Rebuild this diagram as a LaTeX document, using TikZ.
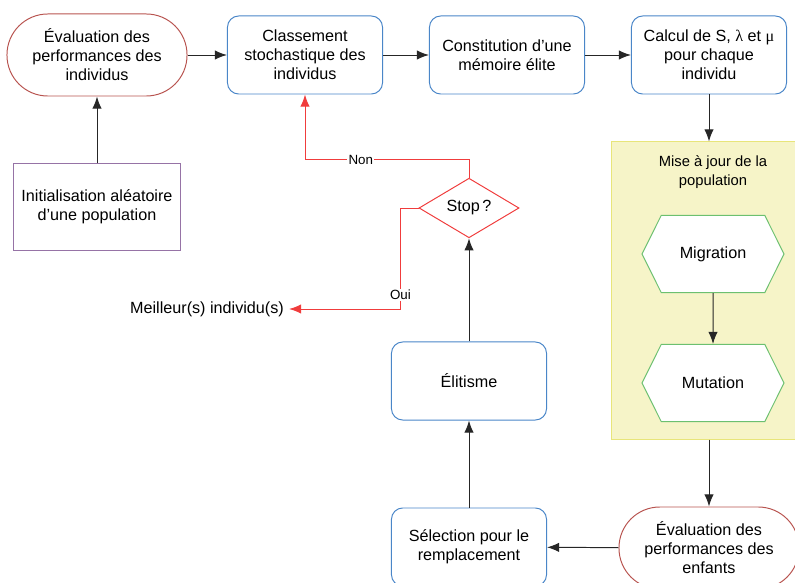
\documentclass[tikz,border=0pt]{standalone}
\usepackage{fontspec}
\setmainfont{Liberation Sans}
\newfontfamily\grec{Liberation Serif}
\usetikzlibrary{arrows.meta,shapes.geometric,shapes.symbols}

\definecolor{rougeb}{HTML}{B85450}
\definecolor{bleub}{HTML}{4A86C8}
\definecolor{violetb}{HTML}{9673A6}
\definecolor{vertb}{HTML}{6CC070}
\definecolor{jaunef}{HTML}{F6F4C8}
\definecolor{jauneb}{HTML}{E8E57A}
\definecolor{rougel}{HTML}{F03C3C}

\begin{document}
\begin{tikzpicture}[>={Latex[length=3mm,width=2.3mm]},x=0.025cm,y=-0.025cm,line width=0.7pt,
  every node/.style={font=\fontsize{11.5}{13.5}\selectfont,align=center},
  evalbox/.style={draw=rougeb,rounded corners=1.02cm,minimum width=4.5cm,minimum height=2.05cm},
  etape/.style={draw=bleub,rounded corners=0.28cm,minimum width=3.875cm,minimum height=1.95cm},
  hexa/.style={draw=vertb,fill=white,signal,signal to=east and west,signal pointer angle=127,minimum width=3.55cm,minimum height=1.925cm},
  fleche/.style={->,draw=black!85},
  lien/.style={->,rougel},
  etiq/.style={fill=white,inner sep=1pt,text=black,font=\fontsize{9.5}{11}\selectfont}]
\useasboundingbox (0,0) rectangle (795,583);

% ligne du haut
\node[evalbox] (eval) at (97,55) {Évaluation des\\performances des\\individus};
\node[etape] (classe) at (305,55) {Classement\\stochastique des\\individus};
\node[etape] (memoire) at (507,55) {Constitution d'une\\mémoire élite};
\node[etape] (calcul) at (709,55) {Calcul de S, {\grec λ} et {\grec μ}\\pour chaque\\individu};

\node[draw=violetb,minimum width=4.175cm,minimum height=2.15cm] (init) at (97,207) {Initialisation aléatoire\\d'une population};

% mise a jour
\node[draw=jauneb,fill=jaunef,minimum width=4.7cm,minimum height=7.425cm] (maj) at (706,290.5) {};
\node[font=\fontsize{10.5}{13}\selectfont] (majtitre) at (713,172) {Mise à jour de la\\population};
\node[hexa] (migr) at (713,254) {Migration};
\node[hexa] (mut) at (713,383) {Mutation};

% bas
\node[evalbox] (evalenf) at (709,548) {Évaluation des\\performances des\\enfants};
\node[etape] (select) at (469,547) {Sélection pour le\\remplacement};
\node[etape] (elit) at (469,381) {Élitisme};
\node[diamond,draw=rougel,minimum width=2.5cm,minimum height=1.45cm,inner sep=0pt] (stop) at (469,208) {Stop\,?};
\node (best) at (207,309) {Meilleur(s) individu(s)};

\draw[fleche] (init) -- (eval);
\draw[fleche] (eval) -- (classe);
\draw[fleche] (classe) -- (memoire);
\draw[fleche] (memoire) -- (calcul);
\draw[fleche] (calcul.south) -- (calcul.south |- maj.north);
\draw[fleche] (migr) -- (mut);
\draw[fleche] (evalenf.north |- maj.south) -- (evalenf.north);
\draw[fleche] (evalenf) -- (select);
\draw[fleche] (select) -- (elit);
\draw[fleche] (elit) -- (stop);

\draw[lien] (stop.north) -- ++(0,-18) -| node[etiq,pos=0.33] {Non} (classe.south);
\draw[lien] (stop.west) -- ++(-18,0) |- node[etiq,pos=0.43] {Oui} (best.east);

\end{tikzpicture}
\end{document}
